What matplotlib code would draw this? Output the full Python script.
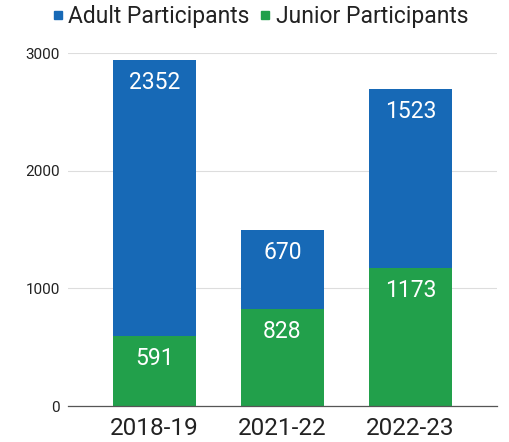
import matplotlib
matplotlib.use("Agg")
from matplotlib import pyplot as plt
from matplotlib.lines import Line2D

seasons = ["2018-19", "2021-22", "2022-23"]
junior = [591, 828, 1173]
adult = [2352, 670, 1523]

BLUE = "#1769b6"
GREEN = "#22a04b"

plt.rcParams["font.family"] = ["Roboto", "DejaVu Sans"]

fig = plt.figure(figsize=(5.1, 4.42), dpi=100)
ax = fig.add_axes([0.1333, 0.0814, 0.8412, 0.7986])

x = list(range(len(seasons)))
w = 0.648
ax.bar(x, junior, width=w, color=GREEN, zorder=2)
ax.bar(x, adult, width=w, bottom=junior, color=BLUE, zorder=2)

# value labels: baseline ~29px under the top of each segment
px = 3000 / (406 - 53)
for i in x:
    ax.text(i, junior[i] - 29 * px, str(junior[i]), ha="center", va="baseline",
            color="white", fontsize=16.5, zorder=3)
    top = junior[i] + adult[i]
    ax.text(i, top - 29 * px, str(adult[i]), ha="center", va="baseline",
            color="white", fontsize=16.5, zorder=3)

ax.set_xlim(-0.676, 2.676)
ax.set_ylim(0, 3000)
ax.set_yticks([0, 1000, 2000, 3000])
ax.set_xticks(x)
ax.set_xticklabels(seasons, fontsize=17.5, color="#222222")
ax.tick_params(axis="y", length=0, labelsize=11, colors="#222222", pad=6)
ax.tick_params(axis="x", length=0, pad=8)
ax.grid(True, axis="y", color="#dddddd", linewidth=0.8, zorder=0)
for s in ["top", "right", "left"]:
    ax.spines[s].set_visible(False)
ax.spines["bottom"].set_color("#555555")
ax.spines["bottom"].set_linewidth(0.9)
ax.spines["bottom"].set_zorder(4)

handles = [Line2D([], [], marker="s", linestyle="none", markersize=5.2,
                  color=BLUE, label="Adult Participants"),
           Line2D([], [], marker="s", linestyle="none", markersize=5.2,
                  color=GREEN, label="Junior Participants")]
fig.legend(handles=handles, loc="center", bbox_to_anchor=(0.511, 0.963), ncol=2,
           frameon=False, fontsize=16.5, handlelength=0.4,
           handletextpad=0.25, columnspacing=0.5, labelcolor="#222222")

plt.savefig("out.png", dpi=100)
